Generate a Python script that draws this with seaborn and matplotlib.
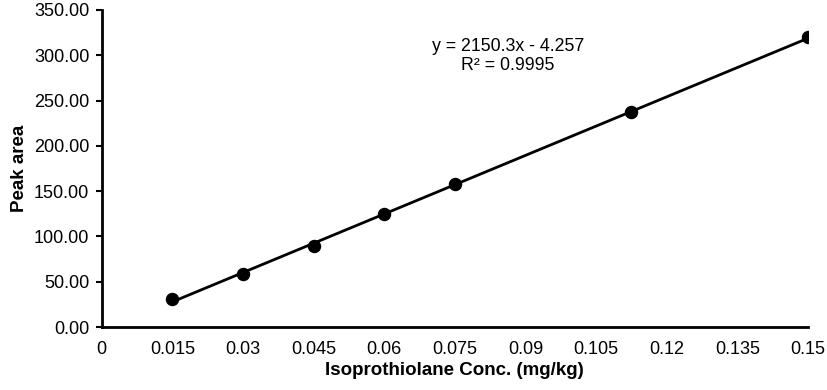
import numpy as np
import pandas as pd
import seaborn as sns
import matplotlib.pyplot as plt

# Calibration data
conc = [0.015, 0.03, 0.045, 0.06, 0.075, 0.1125, 0.15]
peak_area = [31.0, 59.0, 89.5, 125.0, 157.5, 237.0, 320.0]
x_ticks = [0, 0.015, 0.03, 0.045, 0.06, 0.075, 0.09, 0.105, 0.12, 0.135, 0.15]
x_tick_labels = ['0', '0.015', '0.03', '0.045', '0.06', '0.075', '0.09', '0.105', '0.12', '0.135', '0.15']
y_ticks = [0, 50, 100, 150, 200, 250, 300, 350]

df = pd.DataFrame({'conc': conc, 'area': peak_area})

sns.set_style('white')
plt.rcParams['font.family'] = ['Liberation Sans', 'DejaVu Sans']
plt.rcParams['text.color'] = 'black'
plt.rcParams['axes.labelcolor'] = 'black'

fig = plt.figure(figsize=(8.27, 3.9), dpi=100)
ax = fig.add_axes([0.123, 0.1615, 0.854, 0.813])

# Scatter points + linear trend line
sns.regplot(data=df, x='conc', y='area', ci=None, ax=ax,
            scatter_kws={'color': 'black', 's': 75, 'alpha': 1, 'zorder': 3},
            line_kws={'color': 'black', 'lw': 2})

ax.set_xlim(0, 0.15)
ax.set_ylim(0, 350)
ax.set_xticks(x_ticks)
ax.set_xticklabels(x_tick_labels)
ax.set_yticks(y_ticks)
ax.set_yticklabels([f'{v:.2f}' for v in y_ticks])
ax.tick_params(axis='both', labelsize=13, colors='black')
ax.tick_params(axis='y', length=4, width=1.5, direction='out', left=True, pad=5)
ax.tick_params(axis='x', length=0, pad=10)

for side in ['top', 'right']:
    ax.spines[side].set_visible(False)
for side in ['left', 'bottom']:
    ax.spines[side].set_linewidth(2)
    ax.spines[side].set_color('black')

ax.set_xlabel('Isoprothiolane Conc. (mg/kg)', fontsize=13.5, fontweight='bold', labelpad=3)
ax.set_ylabel('Peak area', fontsize=13.5, fontweight='bold', labelpad=4)

# Equation annotation
slope, intercept = 2150.3, -4.257
ax.text(0.0863, 299, f'y = {slope}x - {abs(intercept)}\nR² = 0.9995',
        ha='center', va='center', fontsize=12.8, linespacing=1.15)

fig.savefig('out.png', dpi=100)
